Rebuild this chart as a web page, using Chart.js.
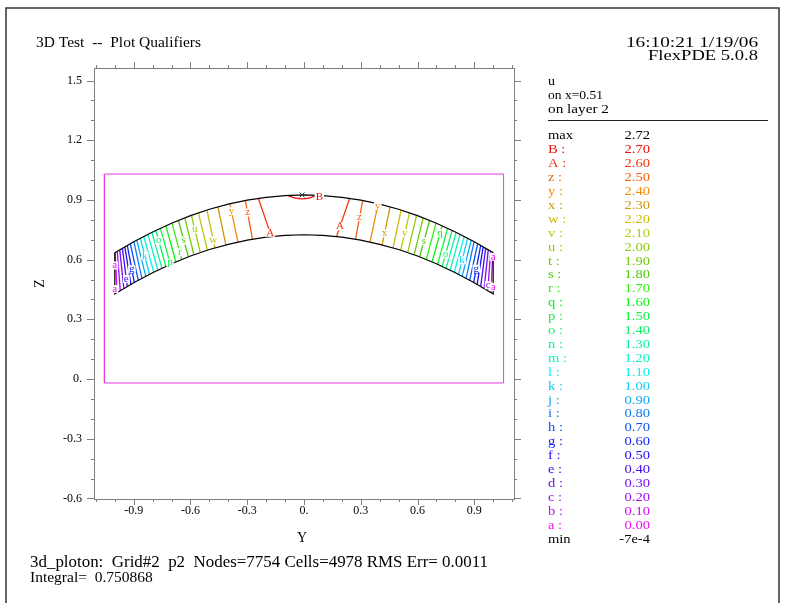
<!DOCTYPE html>
<html>
<head>
<meta charset="utf-8">
<script src="https://cdn.jsdelivr.net/npm/chart.js@4.4.0/dist/chart.umd.min.js"></script>
<style>
  html, body { margin: 0; padding: 0; background: #fff; }
  #wrap { width: 790px; height: 603px; position: relative; }
</style>
</head>
<body>
<div id="wrap"><canvas id="plot" width="790" height="603"></canvas></div>
<script>
// contour levels, a .. B
const levelNames = ['a','b','c','d','e','f','g','h','i','j','k','l','m','n','o','p','q','r','s','t','u','v','w','x','y','z','A','B'];
const levelValues = [0.00,0.10,0.20,0.30,0.40,0.50,0.60,0.70,0.80,0.90,1.00,1.10,1.20,1.30,1.40,1.50,1.60,1.70,1.80,1.90,2.00,2.10,2.20,2.30,2.40,2.50,2.60,2.70];
const uMax = '2.72';
const uMin = '-7e-4';

// axis ranges
const yRange = [-1.11, 1.11];
const zRange = [-0.603, 1.563];

// band outline
const edgeY  = [-1.0,-0.9,-0.8,-0.7,-0.6,-0.5,-0.4,-0.3,-0.2,-0.1,0.0,0.1,0.2,0.3,0.4,0.5,0.6,0.7,0.8,0.9,1.0];
const upperZ = [0.635,0.690,0.739,0.783,0.821,0.853,0.879,0.899,0.913,0.922,0.925,0.922,0.913,0.899,0.879,0.853,0.821,0.783,0.739,0.690,0.635];
const lowerZ = [0.427,0.484,0.534,0.579,0.618,0.651,0.677,0.698,0.713,0.722,0.725,0.722,0.713,0.698,0.677,0.651,0.618,0.579,0.534,0.484,0.427];

// contours b .. A on the left half: Y where each line meets the upper / lower edge
// (right half is the mirror image)
const contourUpperY = [-0.998,-0.987,-0.974,-0.960,-0.947,-0.934,-0.918,-0.899,-0.884,-0.865,-0.847,-0.825,-0.804,-0.783,-0.759,-0.730,-0.698,-0.664,-0.630,-0.595,-0.558,-0.513,-0.455,-0.392,-0.310,-0.241];
const contourLowerY = [-0.988,-0.971,-0.952,-0.934,-0.915,-0.897,-0.876,-0.857,-0.836,-0.817,-0.794,-0.772,-0.751,-0.730,-0.706,-0.677,-0.646,-0.611,-0.582,-0.548,-0.511,-0.471,-0.413,-0.349,-0.272,-0.172];

// small B loop under the top and the max marker
const loopBY = [-0.085,-0.05,-0.01,0.03,0.06];
const loopBZ = [0.923,0.910,0.905,0.910,0.921];
const maxY = [-0.01];
const maxZ = [0.925];

// domain box
const boxY = [-1.055, 1.055];
const boxZ = [-0.02, 1.03];

// contour letters: level, side (-1 left / 1 right), position along line (0 lower edge .. 1 upper edge)
const labelLevel = [0,0,4,6,10,14,15,17,18,20,22,24,25,26, 0,0,2,6,10,14,16,18,21,23,24,25,26];
const labelSide  = [-1,-1,-1,-1,-1,-1,-1,-1,-1,-1,-1,-1,-1,-1, 1,1,1,1,1,1,1,1,1,1,1,1,1];
const labelT     = [0.69,0.12,0.2,0.35,0.52,0.72,0.05,0.2,0.45,0.62,0.2,0.81,0.69,0.1, 0.9,0.17,0.14,0.37,0.39,0.33,0.8,0.43,0.46,0.31,0.94,0.57,0.27];

// texts
const titleText = '3D Test  --  Plot Qualifiers';
const stampText = ['16:10:21 1/19/06', 'FlexPDE 5.0.8'];
const plotInfo = ['u', 'on x=0.51', 'on layer 2'];
const footerText = ['3d_ploton:  Grid#2  p2  Nodes=7754 Cells=4978 RMS Err= 0.0011', 'Integral=  0.750868'];

const SERIF = '"Liberation Serif", "DejaVu Serif", serif';

function levelColor(i) {
  const h = 300 - i * 300 / 27;
  const l = (h > 35 && h < 110) ? 42 : 50;
  return 'hsl(' + h.toFixed(1) + ',90%,' + l + '%)';
}

function edgeAt(arr, y) {
  let i = 0;
  while (i < edgeY.length - 2 && y > edgeY[i + 1]) i++;
  const t = (y - edgeY[i]) / (edgeY[i + 1] - edgeY[i]);
  return arr[i] + t * (arr[i + 1] - arr[i]);
}

// line ends for a level on one side
function contourEnds(level, side) {
  let yu, yl;
  if (level === 0) { yu = side; yl = side; }
  else {
    yu = side < 0 ? contourUpperY[level - 1] : -contourUpperY[level - 1];
    yl = side < 0 ? contourLowerY[level - 1] : -contourLowerY[level - 1];
  }
  return { up: { x: yu, y: edgeAt(upperZ, yu) }, lo: { x: yl, y: edgeAt(lowerZ, yl) } };
}

const datasets = [];

datasets.push({
  data: [{ x: maxY[0], y: maxZ[0] }],
  pointStyle: 'crossRot', pointRadius: 3.5, borderColor: '#333', borderWidth: 1,
  showLine: false, order: 0
});

const outline = edgeY.map((y, i) => ({ x: y, y: upperZ[i] }))
  .concat(edgeY.map((y, i) => ({ x: y, y: lowerZ[i] })).reverse());
outline.push(outline[0]);
datasets.push({
  data: outline, borderColor: '#000', borderWidth: 1.2, showLine: true,
  pointRadius: 0, tension: 0, order: 1
});

for (let lv = 1; lv <= 26; lv++) {
  [-1, 1].forEach(side => {
    const e = contourEnds(lv, side);
    datasets.push({
      data: [e.lo, e.up], borderColor: levelColor(lv), borderWidth: 1.3,
      showLine: true, pointRadius: 0, order: 2
    });
  });
}

datasets.push({
  data: loopBY.map((y, i) => ({ x: y, y: loopBZ[i] })),
  borderColor: levelColor(27), borderWidth: 1.3, showLine: true,
  pointRadius: 0, tension: 0.4, order: 2
});

datasets.push({
  data: [
    { x: boxY[0], y: boxZ[0] }, { x: boxY[1], y: boxZ[0] },
    { x: boxY[1], y: boxZ[1] }, { x: boxY[0], y: boxZ[1] }, { x: boxY[0], y: boxZ[0] }
  ],
  borderColor: 'rgb(228,60,228)', borderWidth: 1, showLine: true,
  pointRadius: 0, tension: 0, order: 3
});

function tickLabel(v) {
  const r = Math.round(v * 10);
  if (r % 3 !== 0) return '';
  return r === 0 ? '0.' : (r / 10).toFixed(1);
}

// text squeezed or stretched to the width it has in the reference
function fitText(ctx, txt, x, y, width, align) {
  const w = ctx.measureText(txt).width;
  const k = width / w;
  ctx.save();
  ctx.textAlign = 'left';
  const x0 = align === 'right' ? x - width : x;
  ctx.translate(x0, y);
  ctx.scale(k, 1);
  ctx.fillText(txt, 0, 0);
  ctx.restore();
}

// contour letters with a white gap in the line
const letterPlugin = {
  id: 'letters',
  afterDatasetsDraw(chart) {
    const { ctx, scales: { x, y } } = chart;
    ctx.save();
    ctx.font = '11px ' + SERIF;
    ctx.textAlign = 'center';
    ctx.textBaseline = 'middle';
    const put = (txt, px, py, col) => {
      const w = ctx.measureText(txt).width;
      ctx.fillStyle = '#fff';
      ctx.fillRect(px - w / 2 - 1, py - 4, w + 2, 8);
      ctx.fillStyle = col;
      ctx.fillText(txt, px, py);
    };
    labelLevel.forEach((lv, i) => {
      const e = contourEnds(lv, labelSide[i]);
      const t = labelT[i];
      const px = x.getPixelForValue(e.lo.x) + t * (x.getPixelForValue(e.up.x) - x.getPixelForValue(e.lo.x));
      const py = y.getPixelForValue(e.lo.y) + t * (y.getPixelForValue(e.up.y) - y.getPixelForValue(e.lo.y));
      put(levelNames[lv], px, py, levelColor(lv));
    });
    const n = loopBY.length - 1;
    put('B', x.getPixelForValue(loopBY[n]) + 4, y.getPixelForValue(loopBZ[n]) + 1, levelColor(27));
    ctx.restore();
  }
};

// frame, ticks, titles and the legend panel
const pagePlugin = {
  id: 'page',
  afterDraw(chart) {
    const { ctx, chartArea: a, scales: { x, y } } = chart;
    ctx.save();

    // page border
    ctx.strokeStyle = '#333';
    ctx.lineWidth = 1.5;
    ctx.beginPath();
    ctx.moveTo(6, 610); ctx.lineTo(6, 8); ctx.lineTo(779, 8); ctx.lineTo(779, 610);
    ctx.stroke();

    // plot frame with outward ticks on all sides
    ctx.strokeStyle = '#7f7f7f';
    ctx.lineWidth = 1;
    ctx.strokeRect(a.left + 0.5, a.top + 0.5, a.right - a.left, a.bottom - a.top);
    ctx.beginPath();
    x.ticks.forEach(t => {
      const px = Math.round(x.getPixelForValue(t.value)) + 0.5;
      const len = Math.round(t.value * 10) % 3 === 0 ? 6 : 3;
      ctx.moveTo(px, a.bottom); ctx.lineTo(px, a.bottom + len);
      ctx.moveTo(px, a.top); ctx.lineTo(px, a.top - len);
    });
    y.ticks.forEach(t => {
      const py = Math.round(y.getPixelForValue(t.value)) + 0.5;
      const len = Math.round(t.value * 10) % 3 === 0 ? 7 : 3;
      ctx.moveTo(a.left, py); ctx.lineTo(a.left - len, py);
      ctx.moveTo(a.right, py); ctx.lineTo(a.right + len, py);
    });
    ctx.stroke();

    ctx.fillStyle = '#000';
    ctx.textBaseline = 'middle';

    // axis titles
    ctx.font = '14px ' + SERIF;
    ctx.textAlign = 'center';
    ctx.fillText('Y', (a.left + a.right) / 2 - 2, 538);
    ctx.save();
    ctx.translate(40, (a.top + a.bottom) / 2);
    ctx.rotate(-Math.PI / 2);
    ctx.fillText('Z', 0, 0);
    ctx.restore();

    // header
    ctx.font = '15.5px ' + SERIF;
    fitText(ctx, titleText, 36, 43, 165, 'left');
    fitText(ctx, stampText[0], 758, 43, 132, 'right');
    fitText(ctx, stampText[1], 758, 56, 110, 'right');

    // footer
    ctx.font = '16px ' + SERIF;
    fitText(ctx, footerText[0], 30, 563, 458, 'left');
    ctx.font = '15.5px ' + SERIF;
    ctx.textAlign = 'left';
    ctx.fillText(footerText[1], 30, 578);

    // legend panel
    ctx.font = '13px ' + SERIF;
    ctx.textAlign = 'left';
    fitText(ctx, plotInfo[0], 548, 82, 7, 'left');
    fitText(ctx, plotInfo[1], 548, 96, 55, 'left');
    fitText(ctx, plotInfo[2], 548, 110, 61, 'left');
    ctx.strokeStyle = '#222';
    ctx.lineWidth = 1.2;
    ctx.beginPath();
    ctx.moveTo(548, 120.5); ctx.lineTo(768, 120.5);
    ctx.stroke();

    const rowH = 13.9;
    const rows = [{ n: 'max', v: uMax, c: '#000' }];
    for (let i = levelNames.length - 1; i >= 0; i--) {
      rows.push({ n: levelNames[i] + ' :', v: levelValues[i].toFixed(2), c: levelColor(i) });
    }
    rows.push({ n: 'min', v: uMin, c: '#000' });
    rows.forEach((r, i) => {
      const yy = 136 + i * rowH;
      ctx.fillStyle = r.c;
      ctx.save();
      ctx.translate(548, yy);
      ctx.scale(1.12, 1);
      ctx.textAlign = 'left';
      ctx.fillText(r.n, 0, 0);
      ctx.restore();
      ctx.save();
      ctx.translate(650, yy);
      ctx.scale(1.12, 1);
      ctx.textAlign = 'right';
      ctx.fillText(r.v, 0, 0);
      ctx.restore();
    });
    ctx.restore();
  }
};

new Chart(document.getElementById('plot'), {
  type: 'scatter',
  data: { datasets },
  options: {
    responsive: false,
    animation: false,
    devicePixelRatio: 1,
    layout: { padding: { left: 0, right: 276, top: 68, bottom: 0 } },
    plugins: { legend: { display: false }, tooltip: { enabled: false } },
    scales: {
      x: {
        type: 'linear', min: yRange[0], max: yRange[1],
        grid: { display: false, drawTicks: false }, border: { display: false },
        ticks: {
          stepSize: 0.1, maxTicksLimit: 100, autoSkip: false, includeBounds: false,
          maxRotation: 0, padding: 5, color: '#000',
          font: { family: SERIF, size: 12 }, callback: tickLabel
        },
        afterFit(s) { s.height = 104; }
      },
      y: {
        type: 'linear', min: zRange[0], max: zRange[1],
        grid: { display: false, drawTicks: false }, border: { display: false },
        ticks: {
          stepSize: 0.1, maxTicksLimit: 100, autoSkip: false, includeBounds: false,
          padding: 12, color: '#000',
          font: { family: SERIF, size: 12 }, callback: tickLabel
        },
        afterFit(s) { s.width = 94; }
      }
    }
  },
  plugins: [letterPlugin, pagePlugin]
});
</script>
</body>
</html>
